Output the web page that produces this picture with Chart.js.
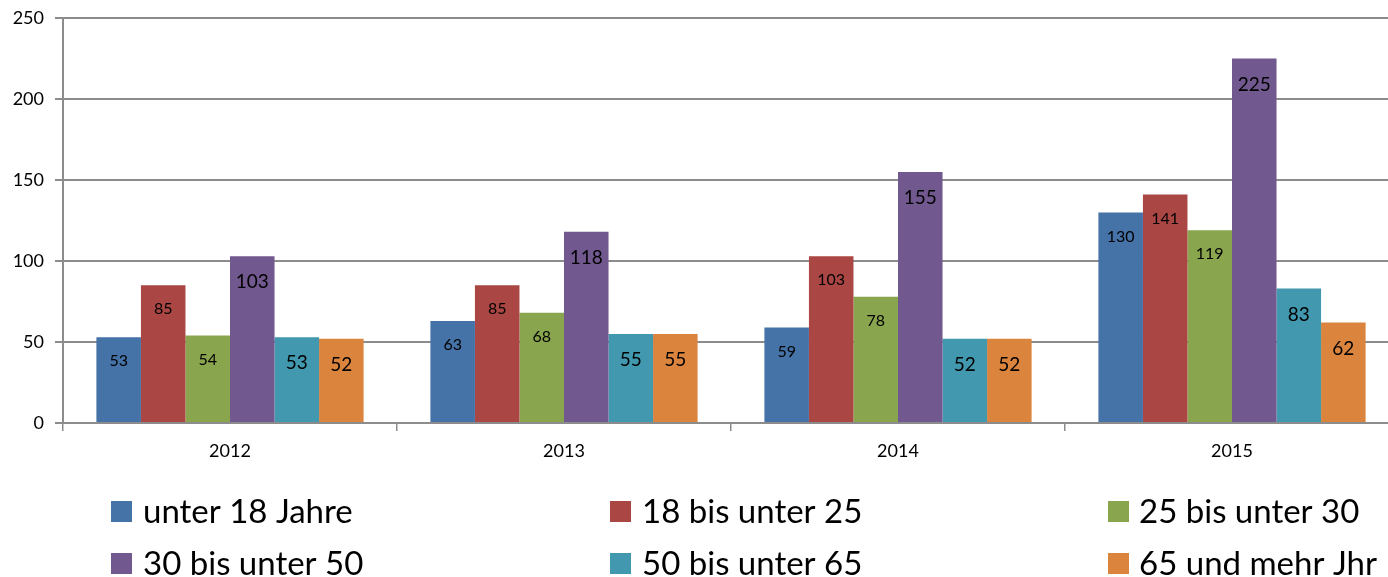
<!DOCTYPE html>
<html>
<head>
<meta charset="utf-8">
<script src="https://cdn.jsdelivr.net/npm/chart.js@4/dist/chart.umd.min.js"></script>
<style>
	html, body { margin: 0; padding: 0; background: #ffffff; overflow: hidden; }
	#wrap { position: relative; width: 1400px; height: 577px; }
</style>
</head>
<body>
<div id="wrap"><canvas id="ageChart"></canvas></div>
<script>
//	Years on the x axis
var years = ['2012', '2013', '2014', '2015'];
//	Age groups (legend text as in the original)
var groupNames = ['unter 18 Jahre', '18 bis unter 25', '25 bis unter 30', '30 bis unter 50', '50 bis unter 65', '65 und mehr Jhr'];
var groupColors = ['#4572A7', '#AA4643', '#89A54E', '#71588F', '#4198AF', '#DB843D'];
//	Values per age group, one per year
var under18 = [53, 63, 59, 130];
var from18to25 = [85, 85, 103, 141];
var from25to30 = [54, 68, 78, 119];
var from30to50 = [103, 118, 155, 225];
var from50to65 = [53, 55, 52, 83];
var over65 = [52, 55, 52, 62];
var seriesValues = [under18, from18to25, from25to30, from30to50, from50to65, over65];
//	Y axis ticks
var yTicks = [0, 50, 100, 150, 200, 250];

var fontName = 'Lato, "Open Sans", sans-serif';
var gridGray = '#8c8c8c';

/**
 *	Writes the value inside each bar, a little under its top
 */
var valueLabels = {
	id: 'valueLabels',
	afterDatasetsDraw: function (chart) {
		var ctx = chart.ctx;
		ctx.save();
		ctx.fillStyle = '#000000';
		ctx.textAlign = 'center';
		ctx.textBaseline = 'middle';
		chart.data.datasets.forEach(function (ds, i) {
			var meta = chart.getDatasetMeta(i);
			var big = i >= 3;
			ctx.font = (big ? '19px ' : '16px ') + fontName;
			meta.data.forEach(function (bar, j) {
				ctx.fillText(String(ds.data[j]), bar.x, bar.y + (big ? 26 : 24));
			});
		});
		ctx.restore();
	}
};

/**
 *	Legend in three columns and two rows under the chart
 */
var gridLegend = {
	id: 'gridLegend',
	afterDraw: function (chart) {
		var ctx = chart.ctx;
		var boxX = [111, 610, 1108];
		var textX = [143, 642, 1139];
		var rowTop = [501, 553];
		ctx.save();
		ctx.font = '33px ' + fontName;
		ctx.textBaseline = 'alphabetic';
		ctx.textAlign = 'left';
		for (let i = 0; i < groupNames.length; i++) {
			var col = i % 3;
			var row = Math.floor(i / 3);
			ctx.fillStyle = groupColors[i];
			ctx.fillRect(boxX[col], rowTop[row], 21, 21);
			ctx.fillStyle = '#000000';
			ctx.fillText(groupNames[i], textX[col], rowTop[row] + 22);
		}
		ctx.restore();
	}
};

var datasets = [];
for (let i = 0; i < groupNames.length; i++) {
	datasets.push({
		label: groupNames[i],
		data: seriesValues[i],
		backgroundColor: groupColors[i],
		borderWidth: 0,
		categoryPercentage: 0.8,
		barPercentage: 1.0
	});
}

var ctx = document.getElementById('ageChart');
var newChart = new Chart(ctx, {
	type: 'bar',
	data: {
		labels: years,
		datasets: datasets
	},
	plugins: [valueLabels, gridLegend],
	options: {
		responsive: true,
		maintainAspectRatio: false,
		animation: false,
		layout: {
			padding: { top: 18, left: 0, right: 1, bottom: 0 }
		},
		plugins: {
			legend: { display: false },
			tooltip: { enabled: false },
			title: { display: false }
		},
		scales: {
			x: {
				offset: true,
				grid: {
					offset: true,
					drawOnChartArea: false,
					drawTicks: true,
					tickLength: 8,
					color: gridGray,
					lineWidth: 1.5
				},
				border: { color: gridGray, width: 2 },
				ticks: {
					color: '#000000',
					padding: 9,
					font: { family: fontName, size: 18 }
				},
				afterFit: function (scale) {
					scale.height = 577 - 423;
					scale.paddingLeft = 0;
					scale.paddingRight = 0;
				}
			},
			y: {
				min: 0,
				max: 250,
				afterBuildTicks: function (scale) {
					scale.ticks = yTicks.map(function (v) { return { value: v }; });
				},
				grid: {
					color: gridGray,
					lineWidth: 2,
					drawTicks: true,
					tickLength: 8
				},
				border: { color: gridGray, width: 2 },
				ticks: {
					color: '#000000',
					padding: 11,
					font: { family: fontName, size: 18 }
				},
				afterFit: function (scale) {
					scale.width = 63;
					scale.paddingTop = 0;
					scale.paddingBottom = 0;
				}
			}
		}
	}
});
</script>
</body>
</html>
